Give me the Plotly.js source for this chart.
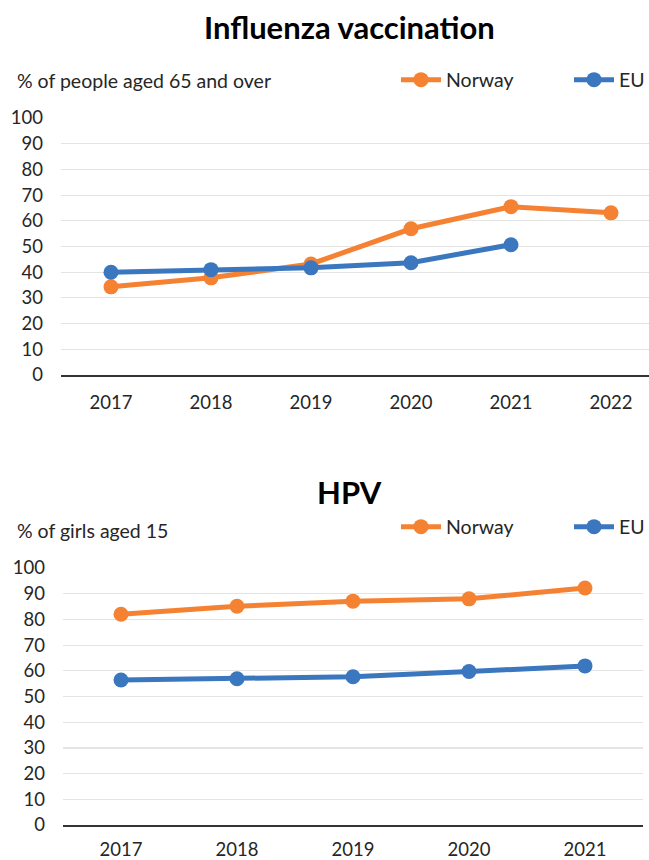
<!DOCTYPE html>
<html>
<head>
<meta charset="utf-8">
<script src="https://cdn.plot.ly/plotly-3.0.1.min.js"></script>
<style>
  html, body { margin: 0; padding: 0; background: #fff; }
  #flu { width: 649px; height: 440px; }
  #hpv { width: 649px; height: 420px; }
</style>
</head>
<body>
<div id="flu"></div>
<div id="hpv"></div>
<script>
// ---- Data ----
const fluYears = ['2017', '2018', '2019', '2020', '2021', '2022'];
const fluNorway = [34.3, 37.8, 43.2, 56.9, 65.5, 63.1];
const fluEU = [40.0, 41.0, 41.7, 43.7, 50.7];

const hpvYears = ['2017', '2018', '2019', '2020', '2021'];
const hpvNorway = [82, 85.1, 87.1, 88.0, 92.2];
const hpvEU = [56.4, 56.9, 57.7, 59.7, 61.9];

const fluTitle = 'Influenza vaccination';
const fluUnit = '% of people aged 65 and over';
const hpvTitle = 'HPV';
const hpvUnit = '% of girls aged 15';
const seriesNames = ['Norway', 'EU'];

// ---- Styles ----
const ORANGE = '#F58233';
const BLUE = '#3A77BF';
const FONT = 'Lato, "Open Sans", sans-serif';
const TXT = '#262626';

function traces(x, nor, eu) {
  return [
    { x: x, y: nor, name: seriesNames[0], type: 'scatter', mode: 'lines+markers', legend: 'legend',
      line: { color: ORANGE, width: 5 }, marker: { color: ORANGE, size: 15 } },
    { x: x.slice(0, eu.length), y: eu, name: seriesNames[1], type: 'scatter', mode: 'lines+markers', legend: 'legend2',
      line: { color: BLUE, width: 5 }, marker: { color: BLUE, size: 15 } }
  ];
}

function legendDef(x, y) {
  return {
    orientation: 'h', x: x, xanchor: 'left', y: y, yanchor: 'middle',
    font: { family: FONT, size: 19.5, color: TXT },
    itemwidth: 40, bgcolor: 'rgba(0,0,0,0)'
  };
}

function layout(opts) {
  return {
    width: 649, height: opts.height,
    margin: { l: opts.l, r: opts.r, t: opts.t, b: opts.b, pad: 0, autoexpand: false },
    paper_bgcolor: '#fff', plot_bgcolor: '#fff',
    font: { family: FONT, size: 18, color: TXT },
    showlegend: true,
    legend: legendDef(opts.leg1X, opts.legY),
    legend2: legendDef(opts.leg2X, opts.legY),
    xaxis: {
      type: 'category', range: opts.xrange, showgrid: false,
      showline: true, linecolor: '#333', linewidth: 1.5, ticks: '',
      tickfont: { family: FONT, size: 18.5, color: TXT }, ticklabelstandoff: opts.xstand,
      fixedrange: true
    },
    yaxis: {
      range: [0, 100], dtick: 10, tick0: 0, showgrid: true, gridcolor: '#e4e4e4', gridwidth: 1.2,
      zeroline: false, showline: false, ticks: '',
      tickfont: { family: FONT, size: 18.5, color: TXT }, ticklabelstandoff: 17,
      fixedrange: true
    },
    annotations: [
      { text: '<b>' + opts.title + '</b>', xref: 'paper', yref: 'paper',
        x: opts.titleX, y: opts.titleY, xanchor: 'center', yanchor: 'middle', showarrow: false,
        font: { family: FONT, size: 31, color: '#000' } },
      { text: opts.unit, xref: 'paper', yref: 'paper',
        x: opts.unitX, y: opts.unitY, xanchor: 'left', yanchor: 'middle', showarrow: false,
        font: { family: FONT, size: 19.5, color: TXT } }
    ]
  };
}

// Top chart: plot area x 61..649, y 118..375 in a 440px div
const fluL = layout({
  height: 440, l: 61, r: 0, t: 118, b: 65, xstand: 10,
  xrange: [-0.5, 5.38],
  leg1X: (396 - 61) / 588, leg2X: (569 - 61) / 588, legY: (375 - 80) / 257,
  title: fluTitle, titleX: (349 - 61) / 588, titleY: (375 - 27) / 257,
  unit: fluUnit, unitX: (15 - 61) / 588, unitY: (375 - 80) / 257
});
Plotly.newPlot('flu', traces(fluYears, fluNorway, fluEU), fluL, { displayModeBar: false, staticPlot: true });

// Bottom chart: div starts at page y 440; plot area x 63..643, y 568..825 (div 128..385)
const hpvL = layout({
  height: 420, l: 63, r: 6, t: 128, b: 35, xstand: 7,
  xrange: [-0.5, 4.5],
  leg1X: (396 - 63) / 580, leg2X: (569 - 63) / 580, legY: (385 - 87) / 257,
  title: hpvTitle, titleX: (349 - 63) / 580, titleY: (385 - 52) / 257,
  unit: hpvUnit, unitX: (15 - 63) / 580, unitY: (385 - 90) / 257
});
Plotly.newPlot('hpv', traces(hpvYears, hpvNorway, hpvEU), hpvL, { displayModeBar: false, staticPlot: true });
</script>
</body>
</html>
